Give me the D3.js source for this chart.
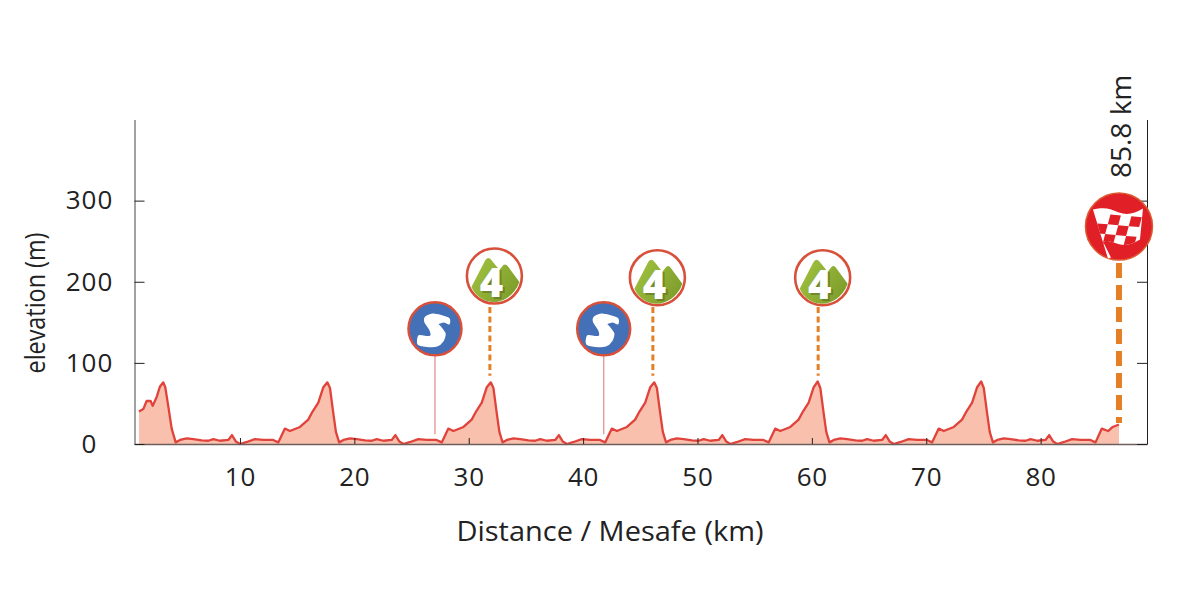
<!DOCTYPE html>
<html>
<head>
<meta charset="utf-8">
<script src="https://cdn.jsdelivr.net/npm/d3@7"></script>
<style>
body { margin: 0; background: #fff; }
text { font-family: "Open Sans", sans-serif; fill: #222; }
</style>
</head>
<body>
<div id="chart"></div>
<script>
var distanceKm = [1.17, 1.55, 1.84, 2.19, 2.37, 2.72, 3.01, 3.30, 3.47, 3.74, 4.03,
	4.38, 4.76, 5.34, 5.92, 6.65, 7.23, 7.67, 8.25, 8.98, 9.30, 9.65, 10.0, 10.6, 11.3, 12.04, 12.9, 13.35, 13.93, 14.37, 15.25, 15.97, 16.35, 16.85, 17.29, 17.64, 17.87, 18.16, 18.39,
	18.67, 19.05, 19.63, 20.21, 20.94, 21.52, 21.96, 22.54, 23.27, 23.59, 23.94, 24.29, 24.89, 25.59, 26.33, 27.19, 27.64, 28.22, 28.66, 29.54, 30.26, 30.64, 31.14, 31.58, 31.93, 32.16, 32.45, 32.68,
	32.96, 33.34, 33.92, 34.5, 35.23, 35.81, 36.25, 36.83, 37.56, 37.88, 38.23, 38.58, 39.18, 39.88, 40.62, 41.48, 41.93, 42.51, 42.95, 43.83, 44.55, 44.93, 45.43, 45.87, 46.22, 46.45, 46.74, 46.97,
	47.25, 47.63, 48.21, 48.79, 49.52, 50.1, 50.54, 51.12, 51.85, 52.17, 52.52, 52.87, 53.47, 54.17, 54.91, 55.77, 56.22, 56.8, 57.24, 58.12, 58.84, 59.22, 59.72, 60.16, 60.51, 60.74, 61.03, 61.26,
	61.54, 61.92, 62.5, 63.08, 63.81, 64.39, 64.83, 65.41, 66.14, 66.46, 66.81, 67.16, 67.76, 68.46, 69.2, 70.06, 70.51, 71.09, 71.53, 72.41, 73.13, 73.51, 74.01, 74.45, 74.8, 75.03, 75.32, 75.55,
	75.83, 76.21, 76.79, 77.37, 78.1, 78.68, 79.12, 79.7, 80.43, 80.75, 81.1, 81.45, 82.05, 82.75, 83.49, 84.35, 84.8, 85.35, 85.9, 86.3, 86.85];

var elevationM = [40, 43, 53, 53, 47, 58, 71, 76, 70, 46, 19,
	2, 5, 7, 6, 4.5, 4, 6, 4, 5, 11, 3, 0, 2.5, 6, 5, 5, 2, 19, 16, 21, 30, 40, 51, 70, 76, 69, 38, 15,
	2, 5, 7, 6, 4.5, 4, 6, 4, 5, 11, 3, 0, 2.5, 6, 5, 5, 2, 19, 16, 21, 30, 40, 51, 70, 76, 69, 38, 15,
	2, 5, 7, 6, 4.5, 4, 6, 4, 5, 11, 3, 0, 2.5, 6, 5, 5, 2, 19, 16, 21, 30, 40, 51, 70, 76, 69, 38, 15,
	2, 5, 7, 6, 4.5, 4, 6, 4, 5, 11, 3, 0, 2.5, 6, 5, 5, 2, 19, 16, 21, 30, 40, 51, 70, 77, 69, 38, 15,
	2, 5, 7, 6, 4.5, 4, 6, 4, 5, 11, 3, 0, 2.5, 6, 5, 5, 2, 19, 16, 21, 30, 40, 51, 70, 77, 69, 38, 15,
	2, 5, 7, 6, 4.5, 4, 6, 4, 5, 11, 3, 0, 2.5, 6, 5, 5, 2, 19, 16, 21, 24];

var xTicks = [10, 20, 30, 40, 50, 60, 70, 80];
var yTicks = [0, 100, 200, 300];

var sprintKm = [27.05, 41.8];
var sprintIconM = [142, 142];
var climbKm = [31.85, 46.1, 60.55];
var climbIconM = [207, 205, 205];
var climbFootM = [84, 84, 84];
var finishKm = 86.85;
var finishIconM = 268;
var finishLabel = "85.8 km";

var svg = d3.select("#chart").append("svg")
	.attr("width", 1200)
	.attr("height", 600);

var x = d3.scaleLinear().domain([0.78, 89.3]).range([134.5, 1147]);
var y = d3.scaleLinear().domain([0, 400]).range([444, 119.5]);

var points = distanceKm.map(function(d, i) { return [d, elevationM[i]]; });

var area = d3.area()
	.x(function(d) { return x(d[0]); })
	.y0(y(0))
	.y1(function(d) { return y(d[1]); });
var line = d3.line()
	.x(function(d) { return x(d[0]); })
	.y(function(d) { return y(d[1]); });

svg.append("path").attr("d", area(points)).attr("fill", "#f9c0ae");
svg.append("path").attr("d", line(points))
	.attr("fill", "none")
	.attr("stroke", "#e0433c")
	.attr("stroke-width", 2.3)
	.attr("stroke-linejoin", "round");

// axes, ticks point into the plot
var xAxis = svg.append("g").attr("transform", "translate(0," + y(0) + ")")
	.call(d3.axisBottom(x).tickValues(xTicks).tickSizeInner(-6).tickSizeOuter(0).tickPadding(24));
var yAxis = svg.append("g").attr("transform", "translate(" + x.range()[0] + ",0)")
	.call(d3.axisLeft(y).tickValues(yTicks).tickSizeInner(-10).tickSizeOuter(0).tickPadding(21));
var rightAxis = svg.append("g").attr("transform", "translate(" + x.range()[1] + ",0)")
	.call(d3.axisRight(y).tickValues(yTicks).tickSizeInner(-10).tickSizeOuter(0).tickFormat(""));

xAxis.selectAll(".tick line").attr("stroke", "#222");
xAxis.select(".domain").attr("stroke", "#6e5f5b").attr("stroke-width", 1.5);
yAxis.select(".domain").attr("stroke", "#444");
yAxis.selectAll(".tick line").attr("stroke", "#222");
rightAxis.select(".domain").attr("stroke", "#222");
rightAxis.selectAll(".tick line").attr("stroke", "#222");
xAxis.selectAll("text").style("font-size", "26px").style("letter-spacing", "0.8px")
	.style("font-family", "Open Sans").attr("fill", "#222");
yAxis.selectAll("text").style("font-size", "26px").style("letter-spacing", "1px")
	.style("font-family", "Open Sans").attr("fill", "#222")
	.attr("text-anchor", "middle").attr("x", -45);

svg.append("text")
	.attr("transform", "translate(610,541) scale(1.035,1)")
	.attr("text-anchor", "middle").style("font-size", "28px")
	.text("Distance / Mesafe (km)");
svg.append("text")
	.attr("transform", "translate(45,303) rotate(-90) scale(0.85,1)")
	.attr("text-anchor", "middle").style("font-size", "27.5px")
	.text("elevation (m)");

// marker stems
svg.selectAll(".sprintStem").data(sprintKm).enter().append("line")
	.attr("x1", function(d) { return x(d); })
	.attr("x2", function(d) { return x(d); })
	.attr("y1", 352)
	.attr("y2", y(12))
	.attr("stroke", "#e39a9a")
	.attr("stroke-width", 1.4);

svg.selectAll(".climbStem").data(climbKm).enter().append("line")
	.attr("x1", function(d) { return x(d); })
	.attr("x2", function(d) { return x(d); })
	.attr("y1", 307)
	.attr("y2", function(d, i) { return y(climbFootM[i]); })
	.attr("stroke", "#e57f26")
	.attr("stroke-width", 3)
	.attr("stroke-dasharray", "6 3.5");

svg.append("line")
	.attr("x1", x(finishKm)).attr("x2", x(finishKm))
	.attr("y1", 263).attr("y2", y(26))
	.attr("stroke", "#e57f26")
	.attr("stroke-width", 6)
	.attr("stroke-dasharray", "15 7");

// sprint icons
var sCurve = d3.line().curve(d3.curveCardinalClosed.tension(0.3));
var sShape = [[14, -10], [6, -13], [-2, -14.5], [-9, -12], [-10, -7], [-5, 1], [-4, 7], [-9, 8], [-16, 7], [-17, 15], [-8, 17.5], [2, 17], [8, 12], [10, 5], [6, -1], [3, -5], [9, -7], [14, -5]];
sprintKm.forEach(function(km, i) {
	var g = svg.append("g").attr("transform", "translate(" + x(km) + "," + y(sprintIconM[i]) + ")");
	g.append("circle").attr("r", 26.5).attr("fill", "#4470b8").attr("stroke", "#d8503a").attr("stroke-width", 2.5);
	g.append("path").attr("d", sCurve(sShape)).attr("fill", "#fff").attr("stroke", "#fff").attr("stroke-width", 1.5);
});

// climb icons
var defs = svg.append("defs");
var hill = defs.append("linearGradient").attr("id", "hill").attr("x1", 0).attr("y1", 0).attr("x2", 1).attr("y2", 0.6);
hill.append("stop").attr("offset", "0").attr("stop-color", "#a3c440");
hill.append("stop").attr("offset", "1").attr("stop-color", "#7f9f2c");
climbKm.forEach(function(km, i) {
	var g = svg.append("g").attr("transform", "translate(" + (x(km) + 4.5) + "," + y(climbIconM[i]) + ")");
	g.append("circle").attr("r", 27.5).attr("fill", "#fff").attr("stroke", "#d8503a").attr("stroke-width", 2.6);
	g.append("path")
		.attr("d", "M-23,11 L-9,-16 Q-6,-20 -3,-16 L5,-6 L9,-11 Q12,-13 14,-9 L25,6 C20,20 8,26 0,26 C-10,26 -19,20 -23,11 Z")
		.attr("fill", "url(#hill)");
	g.append("text").attr("x", -1).attr("y", 23)
		.attr("text-anchor", "middle")
		.style("font-size", "40px").style("font-weight", "800")
		.style("fill", "#4d5a22").style("opacity", 0.45).style("font-family", "Open Sans")
		.text("4");
	g.append("text").attr("x", -3).attr("y", 21)
		.attr("text-anchor", "middle")
		.style("font-size", "40px").style("font-weight", "800")
		.style("fill", "#fff").style("font-family", "Open Sans")
		.text("4");
});

// finish icon
var flagPath = "M-26,-17 C-15,-20 -8,-18 0,-14 C8,-11 16,-13 24,-18 L21,13 C12,19 4,20 -5,16 C-10,14 -14,14 -16,15 L-8,31 L-11,32 Z";
defs.append("clipPath").attr("id", "flagClip").append("path").attr("d", flagPath);
var fin = svg.append("g").attr("transform", "translate(" + x(finishKm) + "," + y(finishIconM) + ")");
fin.append("circle").attr("r", 33.5).attr("fill", "#e01f26").attr("stroke", "#dd5a30").attr("stroke-width", 1.5);
fin.append("path").attr("d", flagPath).attr("fill", "#fff");
var checks = fin.append("g").attr("clip-path", "url(#flagClip)")
	.append("g").attr("transform", "translate(-19,-13) rotate(5) skewX(-10)");
d3.range(4).forEach(function(c) {
	d3.range(3).forEach(function(r) {
		if ((c + r) % 2 == 1)
			checks.append("rect")
				.attr("x", c * 10.5).attr("y", r * 10)
				.attr("width", 10.5).attr("height", 10)
				.attr("fill", "#e01f26");
	});
});

svg.append("text")
	.attr("transform", "translate(1131,178) rotate(-90)")
	.style("font-size", "28px")
	.text(finishLabel);
</script>
</body>
</html>
